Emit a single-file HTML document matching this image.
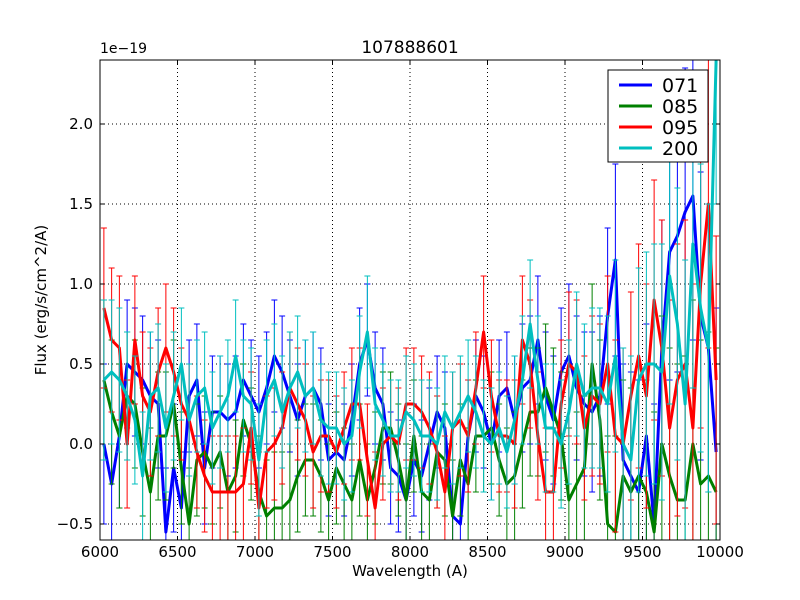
<!DOCTYPE html>
<html><head><meta charset="utf-8"><style>
html,body{margin:0;padding:0;background:#fff;width:800px;height:600px;overflow:hidden;}
svg{display:block;font-family:"DejaVu Sans","Liberation Sans",sans-serif;}
</style></head><body>
<svg id="chart" width="800" height="600">
<defs><clipPath id="pc"><rect x="100" y="60" width="620" height="480"/></clipPath></defs>
<rect width="800" height="600" fill="#fff"/>
<g id="grid"></g>
<g id="series" clip-path="url(#pc)"></g>
<rect x="100" y="60" width="620" height="480" fill="none" stroke="#000" stroke-width="1"/>
<g id="ticks"></g>
<text x="410" y="53" text-anchor="middle" font-size="17">107888601</text>
<text x="100" y="53" font-size="14">1e−19</text>
<text x="410" y="576" text-anchor="middle" font-size="15">Wavelength (A)</text>
<text transform="translate(46,300) rotate(-90)" text-anchor="middle" font-size="15">Flux (erg/s/cm^2/A)</text>
<g id="legend"></g>
</svg>
<script>
const waves=[6025,6075,6125,6175,6225,6275,6325,6375,6425,6475,6525,6575,6625,6675,6725,6775,6825,6875,6925,6975,7025,7075,7125,7175,7225,7275,7325,7375,7425,7475,7525,7575,7625,7675,7725,7775,7825,7875,7925,7975,8025,8075,8125,8175,8225,8275,8325,8375,8425,8475,8525,8575,8625,8675,8725,8775,8825,8875,8925,8975,9025,9075,9125,9175,9225,9275,9325,9375,9425,9475,9525,9575,9625,9675,9725,9775,9825,9875,9925,9975];
const s071=[0.0,-0.25,0.05,0.5,0.45,0.4,0.3,0.25,-0.55,-0.15,-0.4,0.3,0.4,-0.15,0.2,0.2,0.15,0.2,0.4,0.3,0.2,0.35,0.55,0.45,0.3,0.15,0.3,0.35,0.25,-0.1,-0.05,-0.1,0.15,0.5,0.65,0.35,0.25,-0.15,-0.2,-0.35,-0.1,-0.2,0.0,0.2,0.1,-0.45,-0.5,0.05,0.3,0.2,0.0,0.3,0.35,0.15,0.35,0.4,0.65,0.3,0.15,0.45,0.55,0.35,0.25,0.2,0.3,0.8,1.15,-0.1,-0.2,-0.3,0.05,-0.5,0.6,1.2,1.3,1.45,1.55,0.8,0.6,-0.05];
const s085=[0.4,0.2,0.05,0.3,0.25,-0.05,-0.3,0.05,0.05,0.25,-0.15,-0.5,-0.1,-0.05,-0.15,-0.05,-0.3,-0.2,0.15,0.0,-0.3,-0.45,-0.4,-0.4,-0.35,-0.2,-0.1,-0.1,-0.2,-0.35,-0.15,-0.25,-0.35,-0.1,-0.35,-0.15,0.1,0.1,-0.1,-0.35,0.05,-0.3,-0.35,-0.05,-0.1,-0.45,-0.1,-0.25,0.05,0.05,0.1,-0.1,-0.25,-0.2,0.0,0.2,0.2,0.35,0.2,0.05,-0.35,-0.25,-0.15,0.5,0.15,-0.5,-0.55,-0.2,-0.3,-0.2,-0.3,-0.55,0.0,-0.2,-0.35,-0.35,0.0,-0.25,-0.2,-0.3];
const s095=[0.85,0.65,0.6,0.0,0.65,0.3,0.2,0.45,0.6,0.45,0.25,0.15,-0.05,-0.2,-0.3,-0.3,-0.3,-0.3,-0.25,0.1,-0.4,-0.05,0.0,0.1,0.35,0.25,0.15,-0.05,0.05,0.05,-0.05,0.1,0.25,0.25,-0.1,-0.4,0.0,0.05,0.0,0.25,0.25,0.2,0.1,-0.05,-0.3,0.1,0.15,0.05,0.35,0.7,0.3,0.05,0.05,0.0,0.65,0.5,0.05,-0.3,-0.3,0.25,0.5,0.45,0.1,0.3,0.25,0.5,0.05,0.0,0.3,0.55,0.3,0.9,0.6,0.1,0.4,0.5,0.1,1.0,1.5,0.4];
const s200=[0.4,0.45,0.4,0.3,0.15,-0.2,0.3,0.35,0.1,0.3,0.5,0.15,0.3,0.35,0.1,0.2,0.3,0.55,0.3,0.25,-0.1,0.3,0.4,0.2,0.35,0.45,0.3,0.35,0.15,0.1,0.1,0.0,0.05,0.45,0.7,0.25,0.15,0.05,0.05,0.2,0.15,0.05,0.05,0.0,0.2,0.1,0.2,0.3,0.2,0.05,0.0,0.1,-0.05,0.15,0.4,0.75,0.4,0.1,0.1,0.0,0.2,0.5,0.3,0.35,0.35,0.25,0.55,0.0,-0.1,0.4,0.5,0.5,0.45,1.05,0.75,0.25,1.25,0.85,0.6,2.4];
const errs=[0.5,0.45,0.45,0.4,0.4,0.4,0.4,0.4,0.4,0.4,0.35,0.35,0.35,0.35,0.35,0.35,0.35,0.35,0.35,0.35,0.35,0.35,0.35,0.35,0.35,0.35,0.35,0.35,0.35,0.35,0.35,0.35,0.35,0.35,0.35,0.35,0.35,0.35,0.35,0.35,0.35,0.35,0.35,0.35,0.35,0.35,0.35,0.35,0.35,0.35,0.35,0.35,0.35,0.4,0.4,0.4,0.4,0.4,0.4,0.4,0.45,0.45,0.45,0.5,0.5,0.55,0.6,0.6,0.65,0.7,0.7,0.75,0.8,0.8,0.85,0.9,0.9,0.9,0.9,0.9];
const xTicks=[6000,6500,7000,7500,8000,8500,9000,9500,10000];
const yTicks=[-0.5,0.0,0.5,1.0,1.5,2.0];
const yTickLabels=["−0.5","0.0","0.5","1.0","1.5","2.0"];
const seriesNames=["071","085","095","200"];
const seriesColors=["#0000ff","#008000","#ff0000","#00bfbf"];
const allSeries=[s071,s085,s095,s200];

const NS="http://www.w3.org/2000/svg";
const X=w=>100+(w-6000)/4000*620;
const Y=v=>444-v*160;
const C=y=>Math.max(60,Math.min(540,y));
function mk(tag,attrs,parent){const e=document.createElementNS(NS,tag);for(const k in attrs)e.setAttribute(k,attrs[k]);parent.appendChild(e);return e;}
const grid=document.getElementById('grid'),ticks=document.getElementById('ticks'),ser=document.getElementById('series'),leg=document.getElementById('legend');
xTicks.forEach((t,i)=>{
  const l=mk('line',{x1:X(t),x2:X(t),y1:60,y2:540,stroke:'#000','stroke-dasharray':'1,3'},grid);
  
  
  mk('line',{x1:X(t),x2:X(t),y1:540,y2:536,stroke:'#000'},ticks);
  mk('line',{x1:X(t),x2:X(t),y1:60,y2:64,stroke:'#000'},ticks);
  const tx=mk('text',{x:X(t),y:557,'text-anchor':'middle','font-size':15},ticks);
  tx.textContent=t;
  
  
});
yTicks.forEach((t,i)=>{
  const l=mk('line',{x1:100,x2:720,y1:Y(t),y2:Y(t),stroke:'#000','stroke-dasharray':'1,3'},grid);
  
  
  mk('line',{x1:100,x2:104,y1:Y(t),y2:Y(t),stroke:'#000'},ticks);
  mk('line',{x1:716,x2:720,y1:Y(t),y2:Y(t),stroke:'#000'},ticks);
  const tx=mk('text',{x:93,y:Y(t)+5,'text-anchor':'end','font-size':15},ticks);
  tx.textContent=yTickLabels[i];
  
  
});
allSeries.forEach((s,si)=>{
  const g=mk('g',{},ser);
  
  
  s.forEach((v,i)=>{
    const x=X(waves[i]),e=errs[i];
    const lo=Y(v-e),hi=Y(v+e);
    mk('line',{x1:x,x2:x,y1:C(lo),y2:C(hi),stroke:seriesColors[si],'stroke-width':1},g);
    if(lo<=540) mk('line',{x1:x-3,x2:x+3,y1:lo,y2:lo,stroke:seriesColors[si],'stroke-width':1},g);
    if(hi>=60) mk('line',{x1:x-3,x2:x+3,y1:hi,y2:hi,stroke:seriesColors[si],'stroke-width':1},g);
  });
  const p=mk('polyline',{points:s.map((v,i)=>X(waves[i])+','+C(Y(v))).join(' '),fill:'none',stroke:seriesColors[si],'stroke-width':3,'stroke-linejoin':'round'},g);
  
  
});
mk('rect',{x:608,y:70,width:100,height:92,fill:'#fff',stroke:'#000'},leg);
seriesNames.forEach((n,i)=>{
  const y=85+i*21;
  const g=mk('g',{},leg);
  
  
  mk('line',{x1:619,x2:652,y1:y,y2:y,stroke:seriesColors[i],'stroke-width':3},g);
  const t=mk('text',{x:662,y:y+7,'font-size':19},g);
  t.textContent=n;
});
</script>
</body></html>
